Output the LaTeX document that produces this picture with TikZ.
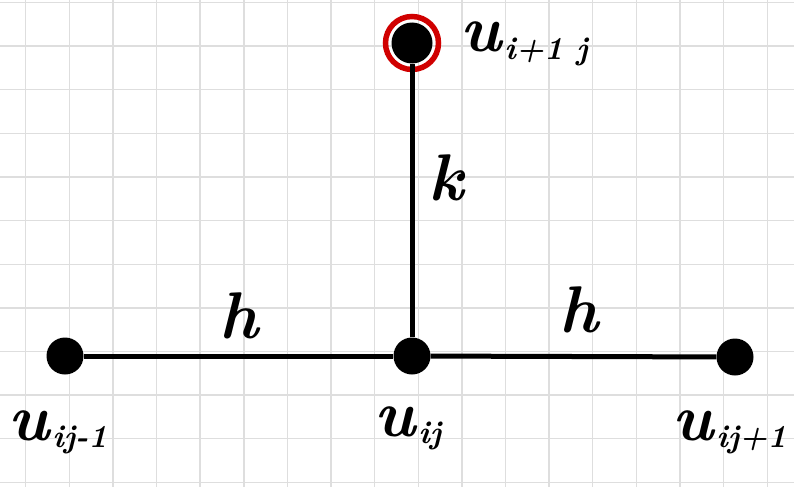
\documentclass[tikz,border=0pt]{standalone}
\usepackage{fontspec}
\setmainfont{Latin Modern Roman}
\definecolor{gridgray}{RGB}{222,222,222}
\definecolor{ringred}{RGB}{208,0,0}
\newcommand{\sublab}[2]{\textit{#1}\kern1pt\raisebox{-0.12em}{\fontsize{32}{32}\selectfont\textit{#2}}}
\tikzset{
  gridline/.style={draw=gridgray, line width=1.4pt},
  vertex/.style={circle, fill=black, inner sep=0pt, minimum size=37pt},
  edge/.style={draw=black, line width=5pt},
  ring/.style={draw=ringred, line width=5.5pt},
  lbl/.style={inner sep=0pt, font=\fontsize{66}{66}\selectfont\bfseries},
}
\begin{document}
\begin{tikzpicture}[x=1pt,y=-1pt]
\useasboundingbox (0,0) rectangle (794,487);
\fill[white] (0,0) rectangle (794,487);
\foreach \i in {0,...,17} \draw[gridline] ({25.7+43.62*\i},0) -- ({25.7+43.62*\i},487);
\foreach \j in {0,...,11} \draw[gridline] (0,{2.5+43.62*\j}) -- (794,{2.5+43.62*\j});

\node[vertex] (l) at (65,356) {};
\node[vertex] (c) at (412,356) {};
\node[vertex] (r) at (735,357) {};
\node[vertex, minimum size=41pt] (t) at (412,43) {};
\draw[ring] (t.center) circle (26.5);

\draw[edge] (l) -- (c);
\draw[edge] (c) -- (r);
\draw[edge] (c) -- (t);

\node[lbl, anchor=base west] (lt) at (460,52) {\sublab{u}{i+1 j}};
\node[lbl] (lk) at (447,178) {\textit{k}};
\node[lbl] (lh1) at (240,316) {\textit{h}};
\node[lbl] (lh2) at (580,310) {\textit{h}};
\node[lbl, anchor=base west] (ll) at (8,440) {\sublab{u}{ij-1}};
\node[lbl, anchor=base west] (lc) at (374,436) {\sublab{u}{ij}};
\node[lbl, anchor=base west] (lr) at (672,440) {\sublab{u}{ij+1}};
\end{tikzpicture}
\end{document}
